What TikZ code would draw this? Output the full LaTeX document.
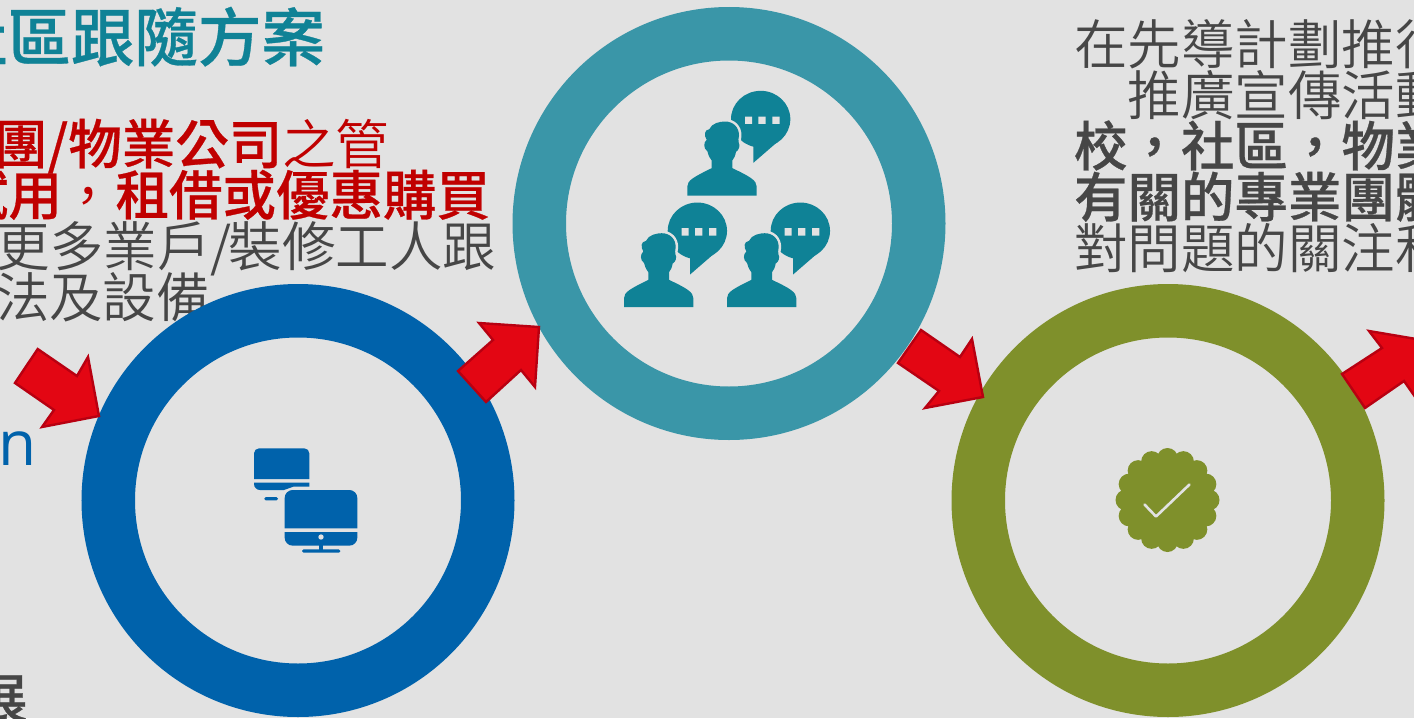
\documentclass[tikz,border=0pt]{standalone}
\usepackage{fontspec}
\newfontfamily\cjk{Noto Sans CJK TC}[UprightFont=* DemiLight,BoldFont=* Medium,BoldFeatures={FakeBold=0.5}]
\newfontfamily\latinlight{Open Sans}
\definecolor{bgc}{HTML}{E2E2E2}
\definecolor{ringblue}{HTML}{0062AB}
\definecolor{ringteal}{HTML}{3A96A8}
\definecolor{ringgreen}{HTML}{7F902B}
\definecolor{iconteal}{HTML}{0F8296}
\definecolor{txtgray}{HTML}{464646}
\definecolor{txtred}{HTML}{C00000}
\definecolor{arrowfill}{HTML}{E30613}
\definecolor{arrowedge}{HTML}{B80011}
\def\personpath{(232,345) -- (232,318) .. controls (232,300) and (250,290) .. (305,263)
      -- (305,240) .. controls (296,228) and (294,220) .. (292,212)
      .. controls (280,205) and (280,185) .. (290,178)
      .. controls (282,165) and (282,148) .. (298,146)
      .. controls (305,128) and (330,123) .. (345,123)
      .. controls (370,123) and (387,140) .. (387,165)
      .. controls (385,175) and (385,180) .. (386,186)
      .. controls (392,195) and (386,210) .. (378,214)
      .. controls (376,225) and (372,235) .. (367,240)
      -- (367,263) .. controls (420,288) and (440,300) .. (440,318) -- (440,345) -- cycle}
\tikzset{
  x=1pt,y=-1pt,
  textline/.style={anchor=base west,inner sep=0pt,outer sep=0pt,font=\cjk\fontsize{53.5}{53.5}\selectfont,text=txtgray},
  redline/.style={textline,text=txtred},
  boldline/.style={textline,font=\cjk\bfseries\fontsize{53.5}{53.5}\selectfont},
  titleline/.style={anchor=base west,inner sep=0pt,outer sep=0pt,font=\cjk\bfseries\fontsize{63.5}{63.5}\selectfont,text=iconteal},
  ring/.style={circle,draw=#1,line width=53.5pt,minimum size=379.5pt,inner sep=0pt,outer sep=0pt},
  blockarrow/.style={fill=arrowfill,draw=arrowedge,line width=2.4pt,line join=miter},
  talker/.pic={
    \fill[iconteal] (452,116) ellipse [x radius=89,y radius=85];
    \fill[iconteal] (430,185) -- (430,247) -- (505,182) -- cycle;
    \fill[bgc] (405,108) rectangle (426,130) (445,108) rectangle (467,130) (487,108) rectangle (509,130);
    \path[draw=bgc,line width=5pt,line join=round] \personpath;
    \fill[iconteal] \personpath;
  }
}
\begin{document}
\begin{tikzpicture}
\useasboundingbox (0,0) rectangle (1414,718);
\clip (0,0) rectangle (1414,718);
\fill[bgc] (0,0) rectangle (1414,718);

% left texts
\node[titleline] (title) at (-56,61) {社區跟隨方案};
\node[redline] (l1) at (-6,164) {\textbf{團/物業公司}之管};
\node[redline] (l2) at (-45,215) {\textbf{試用}，\textbf{租借或優惠購買}};
\node[textline] (l3) at (-3,266) {更多業戶/\kern-3pt 裝修工人跟};
\node[textline] (l4) at (-4,317) {法及設備};
\node[anchor=base west,inner sep=0pt,font=\latinlight\fontsize{62}{62}\selectfont,text=ringblue] (frag) at (-2,465) {n};
\node[boldline] (l6) at (-26,718) {展};

% right texts
\node[textline] (r1) at (1074,64) {在先導計劃推行};
\node[textline] (r2) at (1127.5,115) {推廣宣傳活動};
\node[boldline] (r3) at (1074,166) {校，社區，物業};
\node[boldline] (r4) at (1074,217) {有關的專業團體};
\node[textline] (r5) at (1074,268) {對問題的關注和};

% rings
\node[ring=ringblue] (ringA) at (298,500.5) {};
\node[ring=ringteal] (ringB) at (729,223.5) {};
\node[ring=ringgreen] (ringC) at (1168,500.5) {};

% block arrows
\draw[blockarrow] (37.7,349) -- (77,376) -- (88,357) -- (99,416) -- (42,427) -- (54,410) -- (15,383) -- cycle;
\draw[blockarrow] (479,323) -- (539,327) -- (535,387) -- (521,370) -- (486,402) -- (458,371) -- (493,340) -- cycle;
\draw[blockarrow] (921,330) -- (960,357) -- (972,339) -- (983,397) -- (925,408) -- (939,391) -- (898,363) -- cycle;
\draw[blockarrow] (1342,374) -- (1382,348) -- (1369,331) -- (1428,341) -- (1418,401) -- (1404,381) -- (1365,408) -- cycle;

% talkers
\pic[scale=1/3] at (610,80.5) {talker};
\pic[scale=1/3] at (546.7,192.2) {talker};
\pic[scale=1/3] at (649.7,192.2) {talker};

% computers
\begin{scope}[shift={(240,435)},scale=1/3]
  \fill[ringblue] (42,132) {[rounded corners=5pt] -- (42,40) -- (208,40)} -- (208,132) -- cycle;
  \fill[ringblue] (42,143) -- (208,143) -- (208,155) -- (160,155) -- (132,165) {[rounded corners=6pt] -- (42,165)} -- cycle;
  \fill[ringblue,rounded corners=1.5pt] (73,186) rectangle (114,196);
  \fill[ringblue] (134,280) {[rounded corners=8pt] -- (134,165) -- (352,165)} -- (352,280) -- cycle;
  \fill[ringblue] (134,291) -- (352,291) {[rounded corners=8pt] -- (352,332) -- (134,332)} -- cycle;
  \fill[bgc] (243,306) circle[radius=8];
  \fill[ringblue] (238,330) rectangle (248,345);
  \fill[ringblue,rounded corners=1.5pt] (186,343) rectangle (301,353);
\end{scope}

% badge
\fill[ringgreen] (1167.5,500) circle[radius=42];
\foreach \a in {0,22.5,...,337.5} \fill[ringgreen] (1167.5,500) ++(\a:41.5) circle[radius=10.5];
\draw[bgc,line width=2.6pt,line cap=round,line join=round] (1144.5,504.5) -- (1156,516.5) -- (1189.5,484.5);
\end{tikzpicture}
\end{document}
